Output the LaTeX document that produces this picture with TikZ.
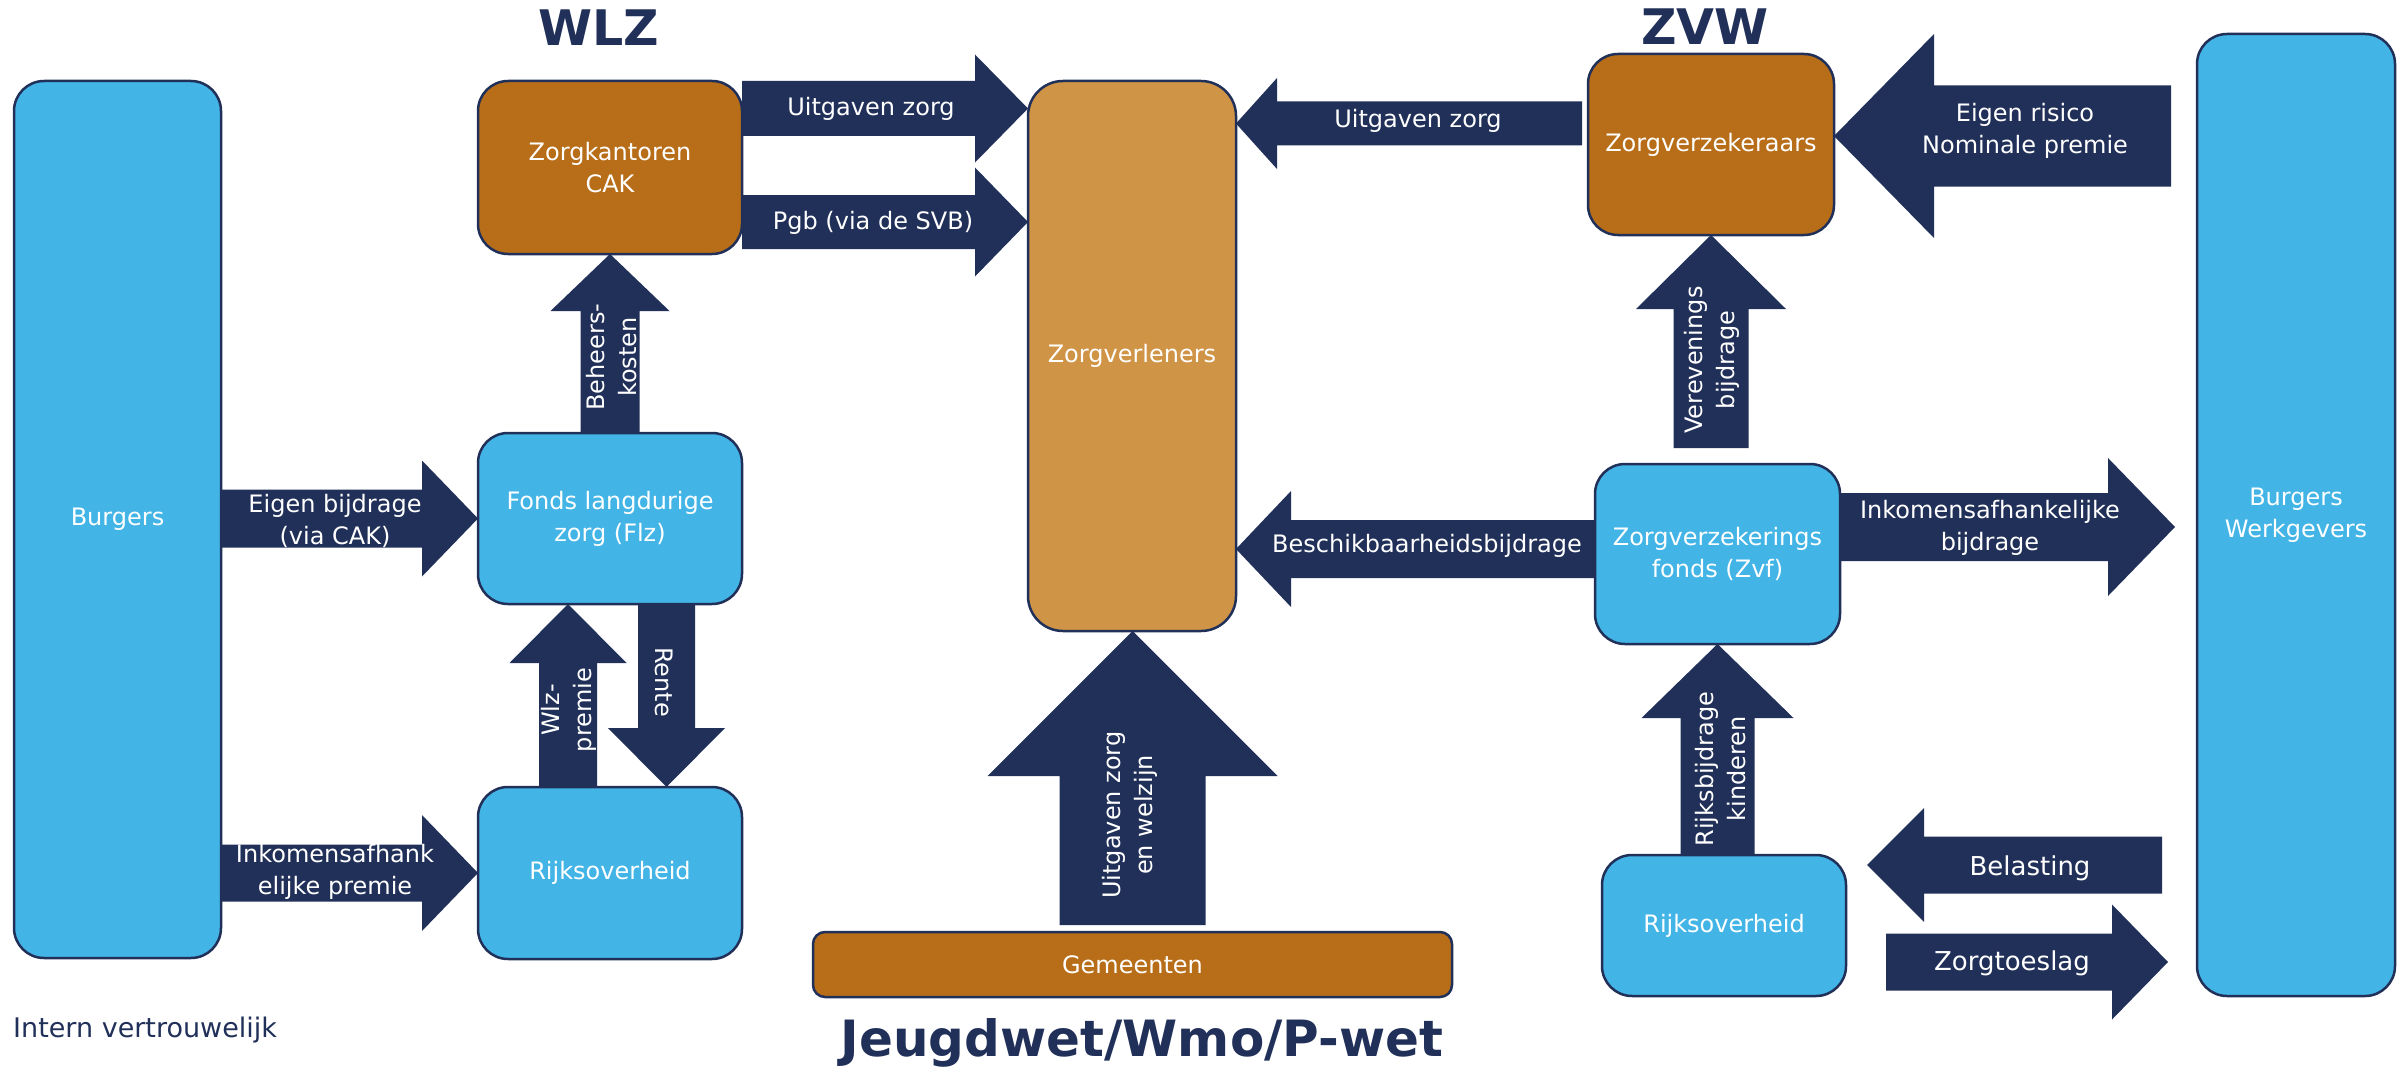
\documentclass[tikz,border=0pt]{standalone}
\usepackage{fontspec}
\setmainfont{DejaVu Sans}
\usetikzlibrary{calc,backgrounds}
\definecolor{lblue}{RGB}{66,180,230}
\definecolor{dbrown}{RGB}{184,110,24}
\definecolor{lbrown}{RGB}{208,148,70}
\definecolor{navy}{RGB}{33,48,89}
% #1 start, #2 tip, #3 body half width, #4 head half width, #5 head length
\newcommand{\blockarrow}[5]{%
  \coordinate (ba-h) at ($(#2)!#5!(#1)$);
  \fill[navy] ($(#1)!#3!90:(#2)$) -- ($(ba-h)!#3!-90:(#1)$) -- ($(ba-h)!#4!-90:(#1)$)
    -- (#2) -- ($(ba-h)!#4!90:(#1)$) -- ($(ba-h)!#3!90:(#1)$) -- ($(#1)!#3!-90:(#2)$) -- cycle;
}
\begin{document}
\begin{tikzpicture}[x=1pt,y=-1pt,
  box/.style={draw=navy, line width=2.5pt, rounded corners=30pt, text=white, align=center,
    inner sep=0pt, outer sep=0pt, font=\fontsize{24}{32}\selectfont},
  lab/.style={text=white, align=center, inner sep=0pt, font=\fontsize{24}{32}\selectfont},
  ttl/.style={text=navy, font=\fontsize{49}{56}\selectfont\bfseries, inner sep=0pt, anchor=base}]
\useasboundingbox (0,0) rectangle (2404,1070);

% ---------- nodes ----------
\node[box, fill=lblue, minimum width=207pt, minimum height=877pt] (burgers) at (117.5,519.5) {Burgers};
\node[box, fill=dbrown, minimum width=264pt, minimum height=173pt] (cak) at (610,167.5) {Zorgkantoren\\CAK};
\node[box, fill=lblue, minimum width=264pt, minimum height=171pt] (fonds) at (610,518.5) {Fonds langdurige\\zorg (Flz)};
\node[box, fill=lblue, minimum width=264pt, minimum height=172pt] (rijk1) at (610,873) {Rijksoverheid};
\node[box, fill=lbrown, minimum width=208pt, minimum height=550pt, rounded corners=35pt] (zv) at (1132,356) {Zorgverleners};
\node[box, fill=dbrown, minimum width=639pt, minimum height=65pt, rounded corners=12pt] (gem) at (1132.5,964.5) {Gemeenten};
\node[box, fill=dbrown, minimum width=246pt, minimum height=181pt] (zvz) at (1711,144.5) {Zorgverzekeraars};
\node[box, fill=lblue, minimum width=245pt, minimum height=180pt] (zvf) at (1717.5,554) {Zorgverzekerings\\fonds (Zvf)};
\node[box, fill=lblue, minimum width=244pt, minimum height=141pt] (rijk2) at (1724,925.5) {Rijksoverheid};
\node[box, fill=lblue, minimum width=198pt, minimum height=962pt] (bww) at (2296,515) {Burgers\\Werkgevers};

% ---------- block arrows ----------
\begin{pgfonlayer}{background}
% WLZ Uitgaven zorg
\coordinate (a1s) at ($(cak.north east)+(0,27.5)$);
\coordinate (a1t) at (a1s -| zv.west);
\blockarrow{a1s}{a1t}{27.5pt}{54pt}{53pt}
% Pgb
\coordinate (a2s) at ($(cak.south east)+(0,-32)$);
\coordinate (a2t) at (a2s -| zv.west);
\blockarrow{a2s}{a2t}{27pt}{54.5pt}{53pt}
% Beheerskosten
\blockarrow{fonds.north}{cak.south}{29.5pt}{59.5pt}{57pt}
% Eigen bijdrage
\coordinate (a4s) at (burgers.east |- fonds.west);
\blockarrow{a4s}{fonds.west}{29pt}{58pt}{56pt}
% Inkomensafhankelijke premie
\coordinate (a5s) at (burgers.east |- rijk1.west);
\blockarrow{a5s}{rijk1.west}{28.5pt}{58pt}{56pt}
% Wlz-premie
\coordinate (a6s) at ($(rijk1.north)+(-42,0)$);
\coordinate (a6t) at ($(fonds.south)+(-42,0)$);
\blockarrow{a6s}{a6t}{29pt}{58.5pt}{59pt}
% Rente
\coordinate (a7s) at ($(fonds.south)+(56.5,0)$);
\coordinate (a7t) at ($(rijk1.north)+(56.5,0)$);
\blockarrow{a7s}{a7t}{28.5pt}{58.5pt}{59pt}
% Uitgaven zorg en welzijn
\coordinate (a8s) at ($(gem.north)+(0,-7)$);
\coordinate (a8t) at (a8s |- zv.south);
\blockarrow{a8s}{a8t}{73pt}{145pt}{145pt}
% ZVW Uitgaven zorg
\coordinate (a9s) at ($(zvz.west)+(-6,-21)$);
\coordinate (a9t) at (a9s -| zv.east);
\blockarrow{a9s}{a9t}{22pt}{45.5pt}{41pt}
% Eigen risico
\coordinate (a10s) at ($(bww.west |- zvz.east)+(-26,-8.5)$);
\coordinate (a10t) at (a10s -| zvz.east);
\blockarrow{a10s}{a10t}{50.5pt}{102pt}{100pt}
% Vereveningsbijdrage
\coordinate (a11s) at ($(zvz.south |- zvf.north)+(0,-16)$);
\blockarrow{a11s}{zvz.south}{37.5pt}{75pt}{74pt}
% Beschikbaarheidsbijdrage
\coordinate (a12s) at ($(zvf.west)+(0,-5)$);
\coordinate (a12t) at (a12s -| zv.east);
\blockarrow{a12s}{a12t}{29pt}{58pt}{55pt}
% Inkomensafhankelijke bijdrage
\coordinate (a13s) at ($(zvf.east)+(0,-27)$);
\coordinate (a13t) at ($(a13s -| bww.west)+(-22,0)$);
\blockarrow{a13s}{a13t}{34pt}{69pt}{67pt}
% Rijksbijdrage kinderen
\coordinate (a14s) at (zvf.south |- rijk2.north);
\blockarrow{a14s}{zvf.south}{37pt}{76pt}{74pt}
% Belasting
\coordinate (a15t) at ($(rijk2.east)+(21,-60.5)$);
\coordinate (a15s) at ($(a15t -| bww.west)+(-35,0)$);
\blockarrow{a15s}{a15t}{28.5pt}{57pt}{57pt}
% Zorgtoeslag
\coordinate (a16s) at ($(rijk2.east)+(40,36.5)$);
\coordinate (a16t) at ($(a16s -| bww.west)+(-29,0)$);
\blockarrow{a16s}{a16t}{28.5pt}{57.5pt}{56pt}
\end{pgfonlayer}

% ---------- arrow labels ----------
\node[lab] (l1) at (871,109) {Uitgaven zorg};
\node[lab] (l2) at (873,223) {Pgb (via de SVB)};
\node[lab, rotate=90] (l3) at (612,357) {Beheers-\\kosten};
\node[lab] (l4) at (335,521) {Eigen bijdrage\\(via CAK)};
\node[lab] (l5) at (335,872) {Inkomensafhank\\elijke premie};
\node[lab, rotate=90] (l6) at (569,710) {Wlz-\\premie};
\node[lab, rotate=-90] (l7) at (664,682) {Rente};
\node[lab, rotate=90] (l8) at (1130,815) {Uitgaven zorg\\en welzijn};
\node[lab] (l9) at (1418,121) {Uitgaven zorg};
\node[lab] (l10) at (2025,131) {Eigen risico\\Nominale premie};
\node[lab, rotate=90] (l11) at (1712,360) {Verevenings\\bijdrage};
\node[lab] (l12) at (1427,546) {Beschikbaarheidsbijdrage};
\node[lab] (l13) at (1990,528) {Inkomensafhankelijke\\bijdrage};
\node[lab, rotate=90] (l14) at (1721,769) {Rijksbijdrage\\kinderen};
\node[lab, font=\fontsize{26}{32}\selectfont] (l15) at (2030,868) {Belasting};
\node[lab, font=\fontsize{26}{32}\selectfont] (l16) at (2012,963) {Zorgtoeslag};

% ---------- titles ----------
\node[ttl] (wlz) at (599,46) {WLZ};
\node[ttl] (zvw) at (1705,45) {ZVW};
\node[ttl, font=\fontsize{50}{58}\selectfont\bfseries] (jw) at (1142,1056) {Jeugdwet/Wmo/P-wet};
\node[text=navy, font=\fontsize{27}{32}\selectfont, anchor=base west, inner sep=0pt] (iv) at (13,1037) {Intern vertrouwelijk};
\end{tikzpicture}
\end{document}
